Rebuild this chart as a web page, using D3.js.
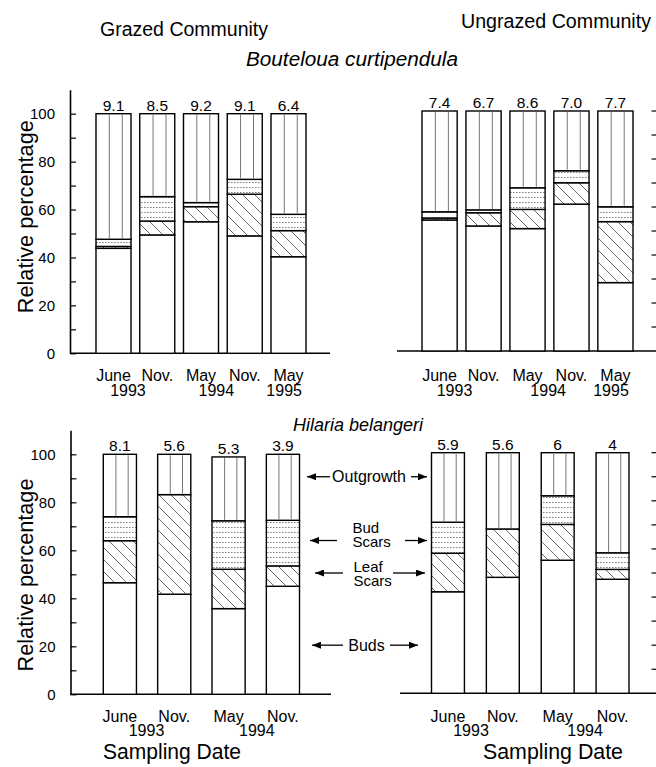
<!DOCTYPE html>
<html><head><meta charset="utf-8">
<script src="https://cdn.jsdelivr.net/npm/d3@7"></script>
<style>
body{margin:0;background:#fff}
svg{display:block}
text{font-family:"Liberation Sans",Arial,Helvetica,sans-serif;fill:#000}
</style>
</head><body>
<svg id="chart" width="656" height="767"></svg>
<script>
// ---------------- DATA ----------------
const segmentKeys = ["buds", "leafScars", "budScars", "outgrowth"];

const boutMonths = ["June", "Nov.", "May", "Nov.", "May"];
const boutYears = ["1993", "1994", "1995"];
const hilMonths = ["June", "Nov.", "May", "Nov."];
const hilYears = ["1993", "1994"];
const yTickValues = [0, 10, 20, 30, 40, 50, 60, 70, 80, 90, 100];

// Bouteloua curtipendula - grazed
const gBoutTotals = ["9.1", "8.5", "9.2", "9.1", "6.4"];
const gBoutBuds = [43.8, 49.4, 54.9, 49.0, 40.3];
const gBoutLeafScars = [0.8, 5.8, 6.3, 17.4, 10.9];
const gBoutBudScars = [3.0, 10.2, 1.7, 6.2, 6.8];
const gBoutOutgrowth = [52.4, 34.6, 37.1, 27.4, 42.0];

// Bouteloua curtipendula - ungrazed
const uBoutTotals = ["7.4", "6.7", "8.6", "7.0", "7.7"];
const uBoutBuds = [54.6, 52.1, 51.0, 61.2, 28.5];
const uBoutLeafScars = [0.8, 5.5, 8.0, 8.9, 25.4];
const uBoutBudScars = [2.6, 1.2, 9.0, 5.0, 6.2];
const uBoutOutgrowth = [42.0, 41.2, 32.0, 24.9, 39.9];

// Hilaria belangeri - grazed
const gHilTotals = ["8.1", "5.6", "5.3", "3.9"];
const gHilBuds = [46.5, 41.7, 35.7, 45.0];
const gHilLeafScars = [17.5, 41.5, 16.4, 8.5];
const gHilBudScars = [10.0, 0, 20.2, 19.0];
const gHilOutgrowth = [26.0, 16.8, 26.6, 27.5];

// Hilaria belangeri - ungrazed
const uHilTotals = ["5.9", "5.6", "6", "4"];
const uHilBuds = [42.2, 48.2, 55.3, 47.4];
const uHilLeafScars = [16.0, 20.1, 14.9, 4.1];
const uHilBudScars = [12.9, 0, 11.9, 6.9];
const uHilOutgrowth = [28.9, 31.7, 17.9, 41.6];

// Legend annotation (between the Hilaria panels)
const annotLabels = [["Outgrowth"], ["Bud", "Scars"], ["Leaf", "Scars"], ["Buds"]];

// ---------------- DRAWING ----------------
const svg = d3.select("#chart");
const defs = svg.append("defs");

const pBud = defs.append("pattern").attr("id", "pBudScars")
  .attr("patternUnits", "userSpaceOnUse").attr("width", 3).attr("height", 5);
pBud.append("rect").attr("width", 3).attr("height", 5).attr("fill", "#fff");
pBud.append("rect").attr("x", 0).attr("y", 2).attr("width", 1.6).attr("height", 0.9).attr("fill", "#777");

const pLeaf = defs.append("pattern").attr("id", "pLeafScars")
  .attr("patternUnits", "userSpaceOnUse").attr("width", 12).attr("height", 12);
pLeaf.append("rect").attr("width", 12).attr("height", 12).attr("fill", "#fff");
pLeaf.append("path").attr("d", "M0,0L12,12M-6,6L6,18M6,-6L18,6")
  .attr("stroke", "#444").attr("stroke-width", 0.8);

defs.append("marker").attr("id", "arrow").attr("viewBox", "0 0 9 7")
  .attr("refX", 9).attr("refY", 3.5).attr("markerWidth", 9).attr("markerHeight", 7)
  .attr("markerUnits", "userSpaceOnUse").attr("orient", "auto")
  .append("path").attr("d", "M0,0L9,3.5L0,7Z").attr("fill", "#000");

const fills = { buds: "#fff", leafScars: "url(#pLeafScars)", budScars: "url(#pBudScars)", outgrowth: "#fff" };

function rowsOf(months, buds, leaf, bud, out) {
  return months.map((m, i) => ({ key: i, buds: buds[i], leafScars: leaf[i], budScars: bud[i], outgrowth: out[i] }));
}

const panels = [
  { months: boutMonths, years: boutYears, totals: gBoutTotals,
    rows: rowsOf(boutMonths, gBoutBuds, gBoutLeafScars, gBoutBudScars, gBoutOutgrowth),
    xr: [96, 306], pad: 0.2, y0: 353.3, y100: 113.7, leftAxis: true, axisX: 70, base: [70, 330],
    yearAt: [0.33, 2.35, 3.9], monthY: 380.5, yearY: 396 },
  { months: boutMonths, years: boutYears, totals: uBoutTotals,
    rows: rowsOf(boutMonths, uBoutBuds, uBoutLeafScars, uBoutBudScars, uBoutOutgrowth),
    xr: [422, 633], pad: 0.2, y0: 351, y100: 111, leftAxis: false, base: [397, 656],
    yearAt: [0.34, 2.47, 3.9], monthY: 380.5, yearY: 396 },
  { months: hilMonths, years: hilYears, totals: gHilTotals,
    rows: rowsOf(hilMonths, gHilBuds, gHilLeafScars, gHilBudScars, gHilOutgrowth),
    xr: [103.3, 299.5], pad: 0.39, y0: 694.3, y100: 454.3, leftAxis: true, axisX: 70.5, base: [70.5, 331],
    yearAt: [0.49, 2.52], monthY: 721.5, yearY: 735.5 },
  { months: hilMonths, years: hilYears, totals: uHilTotals,
    rows: rowsOf(hilMonths, uHilBuds, uHilLeafScars, uHilBudScars, uHilOutgrowth),
    xr: [431.5, 629], pad: 0.4, y0: 693.3, y100: 452.7, leftAxis: false, base: [400, 656],
    yearAt: [0.42, 2.5], monthY: 721.5, yearY: 735.5 }
];

const stack = d3.stack().keys(segmentKeys);

panels.forEach(p => {
  const g = svg.append("g");
  const x = d3.scaleBand().domain(p.months.map((m, i) => i)).range(p.xr).paddingInner(p.pad).paddingOuter(0);
  const y = d3.scaleLinear().domain([0, 100]).range([p.y0, p.y100]);
  p.x = x; p.y = y;

  if (p.leftAxis) {
    const yAx = d3.scaleLinear().domain([0, 110]).range([p.y0, y(110)]);
    const ax = g.append("g").attr("transform", `translate(${p.axisX},0)`)
      .call(d3.axisLeft(yAx).tickValues(yTickValues).tickSizeInner(-6).tickSizeOuter(0).tickPadding(15)
        .tickFormat(d => d % 20 === 0 ? d : ""));
    ax.selectAll("text").attr("font-size", 15).attr("font-family", "Liberation Sans, Arial, sans-serif").attr("fill", "#000");
    ax.selectAll("line").attr("stroke", "#000").attr("stroke-width", 1.2);
    ax.select(".domain").attr("stroke", "#000").attr("stroke-width", 1.6);
  } else {
    g.selectAll(".rtick").data(yTickValues.filter(v => v > 0)).join("line")
      .attr("x1", 651.5).attr("x2", 656).attr("y1", d => y(d)).attr("y2", d => y(d))
      .attr("stroke", "#000").attr("stroke-width", 1.2);
  }
  g.append("line").attr("x1", p.base[0]).attr("x2", p.base[1]).attr("y1", p.y0).attr("y2", p.y0)
    .attr("stroke", "#000").attr("stroke-width", 1.6);

  const series = stack(p.rows);
  series.forEach(s => {
    g.selectAll(null).data(s.filter(d => d[1] - d[0] > 0)).join("rect")
      .attr("x", d => x(d.data.key)).attr("width", x.bandwidth())
      .attr("y", d => y(d[1])).attr("height", d => y(d[0]) - y(d[1]))
      .attr("fill", fills[s.key]).attr("stroke", "#000").attr("stroke-width", 1.4);
    if (s.key === "outgrowth") {
      [0.38, 0.75].forEach(f => {
        g.selectAll(null).data(s).join("line")
          .attr("x1", d => x(d.data.key) + f * x.bandwidth()).attr("x2", d => x(d.data.key) + f * x.bandwidth())
          .attr("y1", d => y(d[1]) + 1).attr("y2", d => y(d[0]) - 1)
          .attr("stroke", "#666").attr("stroke-width", 0.9);
      });
    }
  });

  const tops = series[series.length - 1];
  g.selectAll(null).data(tops).join("text")
    .attr("x", d => x(d.data.key) + x.bandwidth() / 2).attr("y", d => y(d[1]) - 3)
    .attr("text-anchor", "middle").attr("font-size", 15.5).text((d, i) => p.totals[i]);

  g.selectAll(null).data(p.months).join("text")
    .attr("x", (d, i) => x(i) + x.bandwidth() / 2).attr("y", p.monthY)
    .attr("text-anchor", "middle").attr("font-size", 16).text(d => d);
  g.selectAll(null).data(p.years).join("text")
    .attr("x", (d, i) => x(0) + x.bandwidth() / 2 + p.yearAt[i] * x.step()).attr("y", p.yearY)
    .attr("text-anchor", "middle").attr("font-size", 16).text(d => d);
});

[216.7, 575].forEach(cy => {
  svg.append("text").attr("transform", `translate(33,${cy}) rotate(-90)`)
    .attr("text-anchor", "middle").attr("font-size", 21.5)
    .attr("textLength", 193).attr("lengthAdjust", "spacingAndGlyphs").text("Relative percentage");
});

function title(txt, x, y, size, len, italic) {
  svg.append("text").attr("x", x).attr("y", y).attr("text-anchor", "middle").attr("font-size", size)
    .attr("font-style", italic ? "italic" : "normal")
    .attr("textLength", len).attr("lengthAdjust", "spacingAndGlyphs").text(txt);
}
title("Grazed Community", 184, 36, 19.5, 168, false);
title("Ungrazed Community", 556, 28, 19.5, 190, false);
title("Bouteloua curtipendula", 352, 66, 20, 212, true);
title("Hilaria belangeri", 358, 431, 18.5, 130, true);
title("Sampling Date", 172, 758.5, 21.5, 138, false);
title("Sampling Date", 553, 758.5, 21.5, 140, false);

const yA = panels[3].y;
const annotLevels = [90, 63.5, 50, 20];
const annotLayout = [
  { l: [330, 307], r: [411, 427], tx: 369, anchor: "middle", dy: [5.5] },
  { l: [337, 310], r: [405, 427], tx: 352.5, anchor: "start", dy: [-8, 6.5] },
  { l: [343, 315], r: [393, 425], tx: 353.5, anchor: "start", dy: [-1.5, 13] },
  { l: [343, 312], r: [390, 418], tx: 366.5, anchor: "middle", dy: [5.5] }
];
annotLabels.forEach((lines, i) => {
  const L = annotLayout[i];
  const yy = yA(annotLevels[i]);
  svg.append("line").attr("x1", L.l[0]).attr("x2", L.l[1]).attr("y1", yy).attr("y2", yy)
    .attr("stroke", "#000").attr("stroke-width", 1.3).attr("marker-end", "url(#arrow)");
  svg.append("line").attr("x1", L.r[0]).attr("x2", L.r[1]).attr("y1", yy).attr("y2", yy)
    .attr("stroke", "#000").attr("stroke-width", 1.3).attr("marker-end", "url(#arrow)");
  lines.forEach((t, j) => {
    svg.append("text").attr("x", L.tx).attr("y", yy + L.dy[j]).attr("text-anchor", L.anchor)
      .attr("font-size", lines.length > 1 ? 15 : 16).text(t);
  });
});
</script>
</body></html>
